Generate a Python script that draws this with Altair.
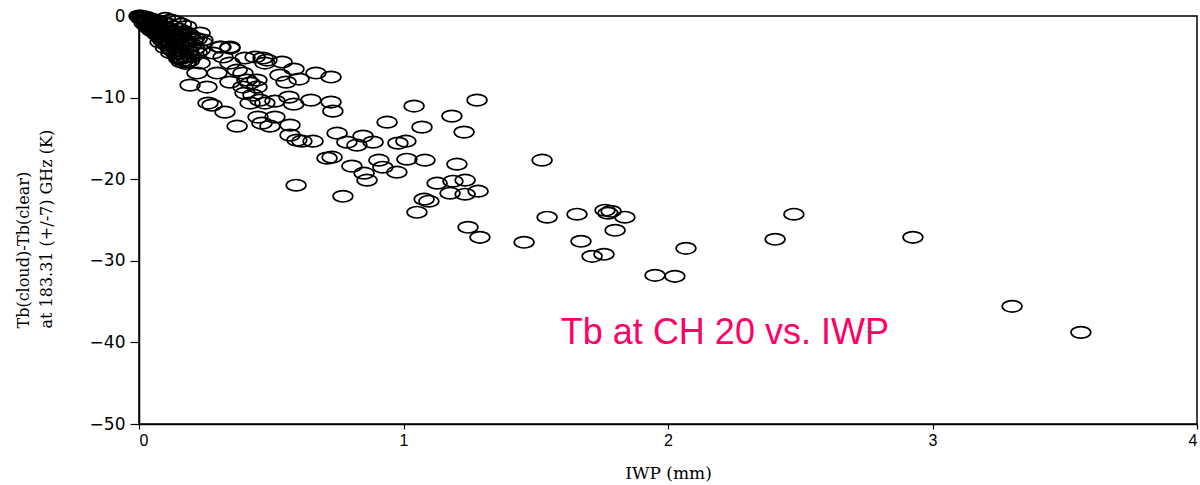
import altair as alt
import pandas as pd

# IWP (mm) and Tb(cloud)-Tb(clear) (K)
iwp = [
    # far / sparse points
    3.561, 3.301, 2.926, 2.476, 2.405, 2.068, 2.026, 1.951, 1.837, 1.800,
    1.762, 1.773, 1.785, 1.671, 1.713, 1.758, 1.656, 1.543, 1.524, 1.456,
    1.278, 1.183, 1.229, 1.202, 1.282, 1.233, 1.187, 1.127, 1.176, 1.233,
    1.244, 1.289, 1.040, 1.070, 0.938, 1.078, 1.096, 1.051, 1.013, 1.081,
    0.979, 1.009, 0.975, 0.907, 0.922, 0.851, 0.862, 0.805, 0.771, 0.711,
    0.730, 0.749, 0.786, 0.824, 0.847, 0.885, 0.733, 0.594, 0.571, 0.597,
    0.616, 0.658, 0.465, 0.495, 0.571, 0.371, 0.450, 0.514, 0.325, 0.261,
    0.276,
    # medium cluster
    0.541, 0.586, 0.669, 0.726, 0.533, 0.556, 0.605, 0.401, 0.439, 0.469,
    0.476, 0.344, 0.310, 0.393, 0.408, 0.420, 0.446, 0.401, 0.431, 0.457,
    0.420, 0.476, 0.514, 0.567, 0.585, 0.650, 0.726, 0.193, 0.257, 0.181,
    0.204, 0.231, 0.280, 0.318, 0.344, 0.371, 0.446, 0.393, 0.344, 0.295,
    0.231, 0.219, 0.231, 0.242, 0.306, 0.344, 0.484,
    # dense cluster near the origin
    0.000, 0.003, 0.006, 0.008, 0.010, 0.012, 0.015, 0.018, 0.020, 0.022,
    0.025, 0.028, 0.030, 0.033, 0.036, 0.040, 0.043, 0.046, 0.050, 0.053,
    0.056, 0.060, 0.063, 0.066, 0.070, 0.074, 0.078, 0.082, 0.086, 0.090,
    0.094, 0.098, 0.102, 0.106, 0.110, 0.114, 0.118, 0.122, 0.126, 0.130,
    0.135, 0.140, 0.145, 0.150, 0.155, 0.160, 0.165, 0.170, 0.176, 0.182,
    0.188, 0.195, 0.150, 0.120, 0.100, 0.080, 0.140, 0.160, 0.175, 0.190,
    0.100, 0.120, 0.140, 0.160, 0.180,
    0.020, 0.040, 0.050, 0.060, 0.070, 0.080, 0.090, 0.100, 0.110, 0.120,
    0.130, 0.140, 0.150, 0.160, 0.170, 0.180, 0.190, 0.200, 0.210, 0.220,
    0.030, 0.050, 0.070, 0.090, 0.110, 0.130, 0.150, 0.170, 0.190, 0.210,
    0.060, 0.080, 0.100, 0.120, 0.140, 0.160, 0.180, 0.200, 0.220, 0.240,
    0.030, 0.050, 0.070, 0.090, 0.110,
]
dtb = [
    -38.77, -35.58, -27.12, -24.29, -27.36, -28.47, -31.90, -31.78, -24.66, -26.26,
    -23.80, -24.17, -23.93, -27.61, -29.45, -29.20, -24.29, -24.66, -17.67, -27.73,
    -10.31, -12.27, -14.23, -18.16, -21.47, -20.12, -20.25, -20.49, -21.72, -21.84,
    -25.89, -27.12, -11.04, -13.62, -13.01, -22.45, -22.70, -24.05, -17.55, -17.67,
    -15.58, -15.34, -19.14, -17.67, -18.53, -19.26, -20.12, -18.40, -22.09, -17.42,
    -17.30, -14.36, -15.46, -15.83, -14.72, -15.46, -11.66, -20.74, -14.60, -15.21,
    -15.34, -15.34, -13.13, -13.50, -13.37, -13.50, -12.39, -12.39, -11.78, -10.67,
    -10.92,
    -5.64, -6.50, -6.99, -7.48, -7.24, -8.10, -7.73, -5.15, -5.03, -5.15,
    -5.77, -3.80, -3.80, -6.99, -7.85, -8.22, -8.71, -9.45, -9.69, -10.31,
    -10.67, -10.67, -10.43, -9.94, -10.80, -10.31, -10.55, -8.47, -8.71, -2.09,
    -2.94, -4.17, -4.54, -5.03, -5.77, -6.63, -7.85, -8.71, -8.10, -6.99,
    -5.77, -6.99, -2.09, -2.94, -3.80, -3.93, -5.40,
    0.0, -0.1, 0.0, -0.3, -0.1, -0.4, -0.2, -0.5, -0.1, -0.6,
    -0.3, -0.8, -0.4, -0.7, -1.0, -0.5, -1.2, -0.8, -1.4, -0.6,
    -1.1, -1.6, -0.9, -1.3, -1.9, -1.0, -1.6, -2.2, -1.2, -2.5,
    -1.8, -1.4, -2.8, -2.0, -3.1, -1.6, -2.4, -3.4, -2.7, -1.9,
    -3.8, -2.9, -4.2, -2.3, -3.5, -4.6, -2.9, -3.9, -5.0, -3.3,
    -4.4, -3.7, -5.2, -4.5, -3.9, -3.2, -2.6, -5.6, -5.8, -4.9,
    -0.3, -0.5, -0.7, -1.0, -1.3,
    -0.9, -1.5, -1.8, -2.0, -2.3, -2.6, -3.0, -3.3, -3.6, -4.0,
    -4.3, -4.6, -5.0, -5.2, -5.4, -5.6, -5.5, -5.0, -4.0, -4.5,
    -0.2, -0.4, -0.6, -0.8, -1.0, -1.3, -1.6, -1.9, -2.3, -2.7,
    -1.2, -1.9, -1.5, -2.4, -3.0, -2.2, -3.1, -3.5, -2.8, -3.3,
    -1.2, -1.6, -2.0, -2.4, -3.0,
]

x_ticks = [0, 1, 2, 3, 4]
y_ticks = [0, -10, -20, -30, -40, -50]

note_text = ["Tb at CH 20 vs. IWP"]
note_x = [2.215]
note_y = [-38.9]

df = pd.DataFrame({"iwp": iwp, "dtb": dtb})
notes = pd.DataFrame({"x": note_x, "y": note_y, "t": note_text})

ellipse = "M -1 0 A 1 0.58 0 1 1 1 0 A 1 0.58 0 1 1 -1 0 Z"

x_enc = alt.X(
    "iwp:Q",
    scale=alt.Scale(domain=[0, 4], nice=False, zero=False),
    axis=alt.Axis(
        values=x_ticks, title="IWP (mm)", format="d", grid=False,
        tickSize=5, labelPadding=3, labelFont="Liberation Sans", labelFontSize=16,
        titleFont="DejaVu Serif", titleFontSize=17, titleFontWeight="normal",
        titlePadding=17,
    ),
)
y_enc = alt.Y(
    "dtb:Q",
    scale=alt.Scale(domain=[-50, 0], nice=False, zero=False),
    axis=alt.Axis(
        values=y_ticks, title=["Tb(cloud)-Tb(clear)", "at 183.31 (+/-7) GHz (K)"],
        format="d", grid=False, tickSize=9, labelPadding=5,
        labelFont="DejaVu Sans", labelFontSize=17,
        titleFont="DejaVu Serif", titleFontSize=16, titleFontWeight="normal",
        titleAngle=270, titleAlign="left", titleBaseline="top",
        titleX=-124, titleY=312, titleLineHeight=23,
    ),
)

points = alt.Chart(df).mark_point(
    shape=ellipse, size=390, filled=False, color="black",
    strokeWidth=1.7, opacity=1, clip=False,
).encode(x=x_enc, y=y_enc)

note = alt.Chart(notes).mark_text(
    font="Liberation Sans", fontSize=36, color="#FF0066", align="center", baseline="middle",
).encode(x=alt.X("x:Q"), y=alt.Y("y:Q"), text="t:N")

chart = alt.layer(points, note).properties(
    width=1058, height=408,
    padding={"left": 139, "top": 16, "right": 3, "bottom": 61},
    autosize=alt.AutoSizeParams(type="none"),
    background="white",
).configure_view(
    stroke="black", strokeWidth=1.5,
).configure_axis(
    domainColor="black", domainWidth=1.5, tickColor="black", tickWidth=1.2,
    labelColor="black", titleColor="black",
)

chart.save("out.html", embed_options={"renderer": "svg", "actions": False})
